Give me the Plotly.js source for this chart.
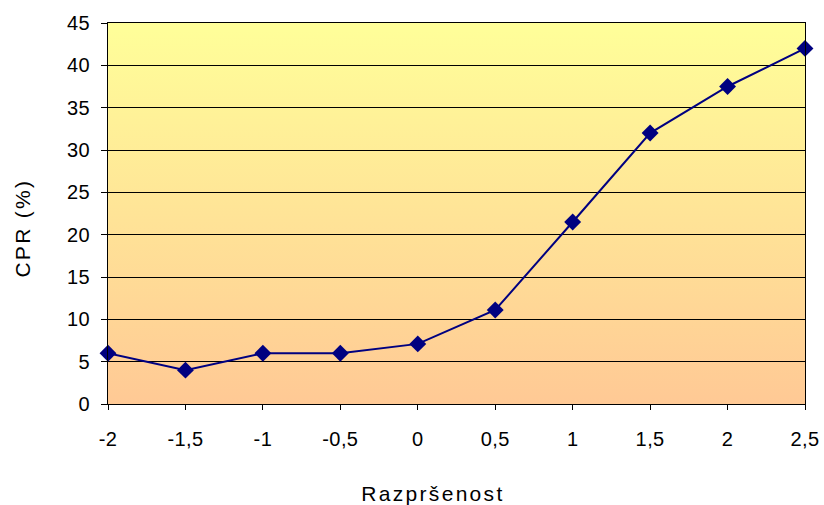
<!DOCTYPE html>
<html>
<head>
<meta charset="utf-8">
<script src="https://cdn.plot.ly/plotly-3.0.1.min.js"></script>
<style>
  html, body { margin: 0; padding: 0; background: #ffffff; }
  #chart { width: 824px; height: 505px; }
  /* slightly airy spacing for the axis titles and tick labels */
  #chart .annotation-text { letter-spacing: 2.3px; }
  #chart .annotation:nth-of-type(2) .annotation-text { letter-spacing: 2.8px; }
  #chart .xtick text, #chart .ytick text { letter-spacing: 0.4px; }
</style>
</head>
<body>
<div id="chart"></div>
<script>
// Dispersion levels and the corresponding CPR values (%)
const razprsenost = [-2, -1.5, -1, -0.5, 0, 0.5, 1, 1.5, 2, 2.5];
const cpr = [6, 4, 6, 6, 7.1, 11.1, 21.5, 32, 37.5, 42];
const xTickVals = [-2, -1.5, -1, -0.5, 0, 0.5, 1, 1.5, 2, 2.5];
const xTickText = ['-2', '-1,5', '-1', '-0,5', '0', '0,5', '1', '1,5', '2', '2,5'];
const xTitle = 'Razpršenost';
const yTitle = 'CPR (%)';

// Vertical yellow-to-peach gradient used as the plot background
const gradientSvg =
  '<svg xmlns="http://www.w3.org/2000/svg" width="100" height="100" preserveAspectRatio="none">' +
  '<defs><linearGradient id="g" x1="0" y1="0" x2="0" y2="1">' +
  '<stop offset="0" stop-color="#FFFF99"/><stop offset="1" stop-color="#FFC995"/>' +
  '</linearGradient></defs><rect width="100" height="100" fill="url(#g)"/></svg>';
const gradientUri = 'data:image/svg+xml;base64,' + btoa(gradientSvg);

const trace = {
  x: razprsenost,
  y: cpr,
  type: 'scatter',
  mode: 'lines+markers',
  line: { color: '#000080', width: 2 },
  marker: { symbol: 'diamond', size: 13, color: '#000080' },
  cliponaxis: false,
  hoverinfo: 'x+y'
};

const tickFont = { family: 'Liberation Sans, Arial, sans-serif', size: 20, color: '#000000' };
const titleFont = { family: 'Liberation Sans, Arial, sans-serif', size: 21, color: '#000000' };

const layout = {
  width: 824,
  height: 505,
  margin: { l: 108, r: 19, t: 23, b: 101 },
  paper_bgcolor: '#ffffff',
  plot_bgcolor: 'rgba(0,0,0,0)',
  showlegend: false,
  font: tickFont,
  images: [{
    source: gradientUri,
    xref: 'paper', yref: 'paper',
    x: 0, y: 1, sizex: 1, sizey: 1,
    sizing: 'stretch',
    layer: 'below'
  }],
  // axis titles placed as annotations so they sit where the chart frame puts them
  annotations: [
    {
      text: xTitle, font: titleFont, showarrow: false,
      xref: 'paper', yref: 'paper', x: 0.466, y: -0.234,
      xanchor: 'center', yanchor: 'middle'
    },
    {
      text: yTitle, font: titleFont, showarrow: false, textangle: -90,
      xref: 'paper', yref: 'paper', x: -0.122, y: 0.463,
      xanchor: 'center', yanchor: 'middle'
    }
  ],
  xaxis: {
    range: [-2, 2.5],
    tickvals: xTickVals,
    ticktext: xTickText,
    ticks: 'outside',
    ticklen: 5,
    tickcolor: '#000000',
    ticklabelstandoff: 12,
    showgrid: false,
    zeroline: false,
    showline: true,
    linecolor: '#000000',
    linewidth: 1,
    mirror: true,
    tickfont: tickFont
  },
  yaxis: {
    range: [0, 45],
    dtick: 5,
    ticks: 'outside',
    ticklen: 6,
    tickcolor: '#000000',
    ticklabelstandoff: 7,
    showgrid: true,
    gridcolor: '#000000',
    gridwidth: 1,
    zeroline: false,
    showline: true,
    linecolor: '#000000',
    linewidth: 1,
    mirror: true,
    tickfont: tickFont
  }
};

Plotly.newPlot('chart', [trace], layout, { displayModeBar: false, staticPlot: true });
</script>
</body>
</html>
